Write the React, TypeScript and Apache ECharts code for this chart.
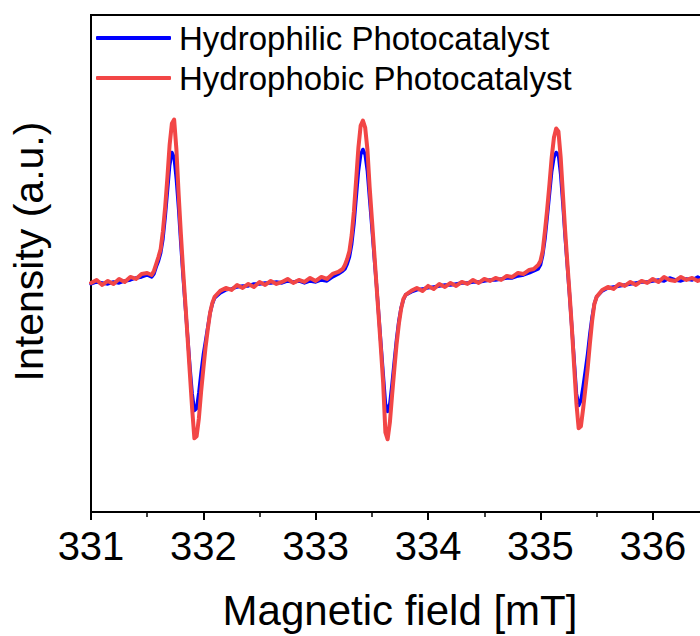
import { useEffect, useRef } from "react";
import * as echarts from "echarts";

// Magnetic field (mT)
const field = [
  331.0, 331.05, 331.1, 331.15, 331.2, 331.25, 331.3, 331.35, 331.4, 331.45, 331.5,
  331.54, 331.56, 331.58, 331.6, 331.62, 331.64, 331.66, 331.68, 331.7, 331.72, 331.74, 331.76, 331.78, 331.8,
  331.82, 331.84, 331.86, 331.88, 331.9, 331.92, 331.94, 331.96, 331.98, 332.0, 332.02, 332.04, 332.06, 332.08, 332.1,
  332.15, 332.2, 332.25, 332.3, 332.35, 332.4, 332.45, 332.5, 332.55, 332.6, 332.65, 332.7, 332.75, 332.8, 332.85,
  332.9, 332.95, 333.0, 333.05, 333.1, 333.15, 333.2,
  333.24, 333.26, 333.28, 333.3, 333.32, 333.34, 333.36, 333.38, 333.4, 333.42, 333.44, 333.46, 333.48, 333.5,
  333.52, 333.54, 333.56, 333.58, 333.6, 333.62, 333.64, 333.66, 333.68, 333.7, 333.72, 333.74, 333.76, 333.78, 333.8,
  333.85, 333.9, 333.95, 334.0, 334.05, 334.1, 334.15, 334.2, 334.25, 334.3, 334.35, 334.4, 334.45, 334.5, 334.55,
  334.6, 334.65, 334.7, 334.75, 334.8, 334.85, 334.9,
  334.94, 334.96, 334.98, 335.0, 335.02, 335.04, 335.06, 335.08, 335.1, 335.12, 335.14, 335.16, 335.18, 335.2,
  335.22, 335.24, 335.26, 335.28, 335.3, 335.32, 335.34, 335.36, 335.38, 335.4, 335.42, 335.44, 335.46, 335.48, 335.5,
  335.55, 335.6, 335.65, 335.7, 335.75, 335.8, 335.85, 335.9, 335.95, 336.0, 336.05, 336.1, 336.15, 336.2, 336.25,
  336.3, 336.35, 336.4, 336.45, 336.5,
];

// Hydrophilic photocatalyst (blue), arbitrary units
const hydrophilic = [
  229, 231, 230, 229, 231, 230, 232, 233, 235, 236, 238,
  236, 239, 246, 252, 260, 274, 296, 322, 348, 361, 356, 334, 304, 269,
  236, 206, 176, 146, 119, 102, 104, 120, 140, 158, 172, 186, 200, 209, 215,
  220, 223, 224, 226, 227, 227, 229, 229, 230, 230, 231, 230, 232, 231, 232,
  230, 232, 231, 233, 232, 236, 239,
  242, 244, 249, 256, 269, 289, 316, 342, 359, 364, 359, 342, 314, 286,
  257, 229, 199, 169, 139, 109, 101, 109, 129, 152, 174, 192, 205, 213, 218,
  221, 223, 224, 225, 226, 227, 228, 228, 229, 230, 230, 231, 231, 232, 233,
  233, 234, 235, 235, 237, 238, 240,
  242, 243, 244, 248, 258, 274, 296, 319, 342, 356, 361, 359, 339, 309,
  276, 246, 216, 184, 152, 119, 107, 112, 126, 142, 159, 179, 196, 209, 216,
  222, 225, 226, 227, 228, 229, 230, 231, 231, 232, 233, 232, 235, 233, 232,
  234, 233, 236, 233, 234,
];

// Hydrophobic photocatalyst (red), arbitrary units
const hydrophobic = [
  230, 233, 228, 232, 229, 234, 231, 236, 234, 239, 240,
  238, 242, 249, 256, 264, 282, 306, 336, 369, 390, 394, 364, 319, 279,
  242, 209, 174, 139, 104, 74, 76, 94, 121, 144, 166, 184, 200, 210, 216,
  222, 225, 223, 228, 225, 229, 226, 231, 228, 232, 229, 231, 234, 230, 233,
  231, 235, 232, 236, 234, 239, 241,
  244, 248, 254, 262, 278, 302, 334, 366, 388, 393, 386, 364, 326, 294,
  262, 229, 197, 164, 130, 80, 73, 90, 118, 144, 169, 189, 204, 214, 218,
  222, 225, 222, 227, 224, 229, 226, 230, 227, 231, 229, 233, 230, 234, 232,
  235, 233, 237, 236, 240, 239, 243,
  244, 246, 248, 252, 262, 282, 304, 329, 356, 376, 385, 382, 356, 319,
  282, 249, 218, 184, 146, 109, 84, 86, 104, 124, 144, 169, 192, 209, 216,
  223, 226, 224, 229, 227, 231, 228, 232, 230, 234, 231, 236, 233, 232, 236,
  233, 235, 232, 234, 233,
];

const seriesNames = ["Hydrophilic Photocatalyst", "Hydrophobic Photocatalyst"];
const FONT = "Liberation Sans, Arial, Helvetica, sans-serif";

export default function App() {
  const ref = useRef<HTMLDivElement>(null);

  useEffect(() => {
    if (!ref.current) return;
    const chart = echarts.init(ref.current, undefined, { renderer: "svg" });
    const blueData = field.map((f, i) => [f, hydrophilic[i]]);
    const redData = field.map((f, i) => [f, hydrophobic[i]]);
    chart.setOption({
      animation: false,
      backgroundColor: "#fff",
      textStyle: { fontFamily: FONT },
      grid: {
        show: true,
        left: 90,
        top: 15,
        width: 619,
        height: 499,
        borderColor: "#000",
        borderWidth: 2,
        backgroundColor: "transparent",
      },
      legend: {
        orient: "vertical",
        left: 96,
        top: 18,
        padding: 0,
        itemWidth: 75,
        itemHeight: 4,
        itemGap: 0,
        icon: "roundRect",
        textStyle: {
          fontSize: 33,
          color: "#000",
          lineHeight: 40,
          fontFamily: FONT,
          padding: [0, 0, 0, 3],
        },
        data: seriesNames,
      },
      xAxis: {
        type: "value",
        min: 331,
        max: 336.5,
        interval: 1,
        name: "Magnetic field [mT]",
        nameLocation: "middle",
        nameGap: 77,
        nameTextStyle: { fontSize: 42, color: "#000", fontFamily: FONT },
        axisLine: { onZero: false, lineStyle: { color: "#000", width: 2 } },
        axisTick: { show: true, inside: false, length: 8, lineStyle: { color: "#000", width: 2 } },
        minorTick: { show: true, splitNumber: 2, length: 5, lineStyle: { color: "#000", width: 1.5 } },
        axisLabel: {
          fontSize: 40,
          color: "#000",
          margin: 14,
          showMaxLabel: false,
          fontFamily: FONT,
          formatter: (v: number) => String(v),
        },
        splitLine: { show: false },
      },
      yAxis: {
        type: "value",
        min: 0,
        max: 499,
        name: "Intensity (a.u.)",
        nameLocation: "middle",
        nameGap: 42,
        nameTextStyle: { fontSize: 41, color: "#000", fontFamily: FONT, padding: [0, 0, 0, 24] },
        axisLine: { show: true, onZero: false, lineStyle: { color: "#000", width: 2 } },
        axisTick: { show: false },
        axisLabel: { show: false },
        splitLine: { show: false },
      },
      series: [
        {
          name: seriesNames[0],
          type: "line",
          data: blueData,
          showSymbol: false,
          symbol: "none",
          color: "#0000FF",
          lineStyle: { color: "#0000FF", width: 3.5, cap: "round", join: "round" },
          z: 2,
        },
        {
          name: seriesNames[1],
          type: "line",
          data: redData,
          showSymbol: false,
          symbol: "none",
          color: "#F24646",
          lineStyle: { color: "#F24646", width: 4, cap: "round", join: "round" },
          z: 3,
        },
      ],
    });
    return () => chart.dispose();
  }, []);

  return (
    <div
      style={{
        position: "fixed",
        left: 0,
        top: 0,
        width: 700,
        height: 636,
        overflow: "hidden",
        background: "#fff",
      }}
    >
      <div ref={ref} style={{ width: 712, height: 636 }} />
    </div>
  );
}
